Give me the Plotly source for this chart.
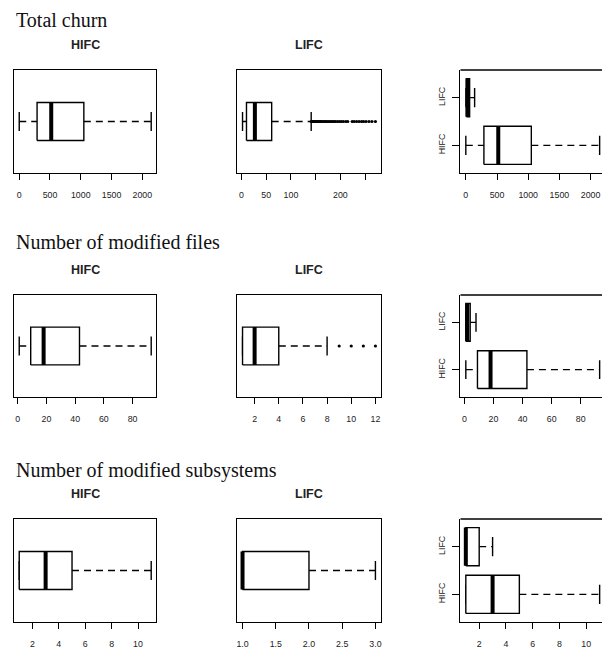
import plotly.graph_objects as go

# ---------------------------------------------------------------------------
# Summary statistics (lower whisker, Q1, median, Q3, upper whisker)
# ---------------------------------------------------------------------------
group_names = ["HIFC", "LIFC"]
metric_titles = ["Total churn", "Number of modified files", "Number of modified subsystems"]

churn_hifc = [0, 290, 520, 1050, 2145]
churn_lifc = [2, 10, 27, 61, 141]
churn_lifc_outliers = [141, 143, 144, 146, 148, 149, 151, 153, 155, 157, 159, 160,
                       162, 165, 167, 170, 172, 175, 178, 181, 184, 187, 190, 194,
                       198, 202, 206, 211, 215, 224, 228, 233, 238, 243, 247, 252,
                       258, 264, 271]

files_hifc = [1, 9, 18, 43, 93]
files_lifc = [1, 1, 2, 4, 8]
files_lifc_outliers = [9, 10, 11, 12]

subsys_hifc = [1, 1, 3, 5, 11]
subsys_lifc = [1, 1, 1, 2, 3]

# tick values / labels per panel
churn_hifc_ticks = [0, 500, 1000, 1500, 2000]
churn_lifc_ticks = [0, 50, 100, 150, 200, 250]
churn_lifc_ticktext = ["0", "50", "100", "", "200", ""]
files_hifc_ticks = [0, 20, 40, 60, 80]
files_lifc_ticks = [2, 4, 6, 8, 10, 12]
subsys_hifc_ticks = [2, 4, 6, 8, 10]
subsys_lifc_ticks = [1.0, 1.5, 2.0, 2.5, 3.0]
subsys_lifc_ticktext = ["1.0", "1.5", "2.0", "2.5", "3.0"]

# ---------------------------------------------------------------------------
# Page geometry (pixels)
# ---------------------------------------------------------------------------
W, H = 603, 653
COLS = [(13, 156), (237, 381), (461, 606)]   # last column runs past the page edge
ROWS = [(70, 173), (295, 397), (519, 622)]
TITLE_Y = [20, 242, 470]
SUBTITLE_Y = [45.5, 270, 494]

SANS = "Liberation Sans, Arial, sans-serif"
SERIF = "Liberation Serif, Times New Roman, serif"
LW = 1.4          # box / frame line width
MED_W = 4         # median line width
DASH = "7px,5px"  # whisker dash pattern


def padded(lo, hi, frac=0.04):
    d = hi - lo
    return [lo - frac * d, hi + frac * d]


fig = go.Figure()


def draw_box(xref, yref, stats, pos, half, outliers=None):
    lo, q1, med, q3, hi = stats
    common = dict(xaxis=xref, yaxis=yref, hoverinfo="skip", showlegend=False)
    # dashed whiskers
    if lo < q1:
        fig.add_trace(go.Scatter(x=[lo, q1], y=[pos, pos], mode="lines",
                                 line=dict(color="black", width=LW, dash=DASH), **common))
    if hi > q3:
        fig.add_trace(go.Scatter(x=[q3, hi], y=[pos, pos], mode="lines",
                                 line=dict(color="black", width=LW, dash=DASH), **common))
    # staples
    for v in (lo, hi):
        fig.add_trace(go.Scatter(x=[v, v], y=[pos - half / 2, pos + half / 2], mode="lines",
                                 line=dict(color="black", width=LW), **common))
    # box
    fig.add_trace(go.Scatter(x=[q1, q3, q3, q1, q1],
                             y=[pos - half, pos - half, pos + half, pos + half, pos - half],
                             mode="lines", fill="toself", fillcolor="white",
                             line=dict(color="black", width=LW), **common))
    # median
    fig.add_trace(go.Scatter(x=[med, med], y=[pos - half, pos + half], mode="lines",
                             line=dict(color="black", width=MED_W), **common))
    if outliers:
        fig.add_trace(go.Scatter(x=outliers, y=[pos] * len(outliers), mode="markers",
                                 marker=dict(color="black", size=3.2, line=dict(width=0)),
                                 **common))


panels = [
    # row 0
    dict(kind="single", boxes=[(churn_hifc, None)],
         ticks=churn_hifc_ticks, ticktext=None, title="HIFC"),
    dict(kind="single", boxes=[(churn_lifc, churn_lifc_outliers)],
         ticks=churn_lifc_ticks, ticktext=churn_lifc_ticktext, title="LIFC"),
    dict(kind="pair", boxes=[(churn_hifc, None), (churn_lifc, None)],
         ticks=churn_hifc_ticks, ticktext=None, title=None),
    # row 1
    dict(kind="single", boxes=[(files_hifc, None)],
         ticks=files_hifc_ticks, ticktext=None, title="HIFC"),
    dict(kind="single", boxes=[(files_lifc, files_lifc_outliers)],
         ticks=files_lifc_ticks, ticktext=None, title="LIFC"),
    dict(kind="pair", boxes=[(files_hifc, None), (files_lifc, None)],
         ticks=files_hifc_ticks, ticktext=None, title=None),
    # row 2
    dict(kind="single", boxes=[(subsys_hifc, None)],
         ticks=subsys_hifc_ticks, ticktext=None, title="HIFC"),
    dict(kind="single", boxes=[(subsys_lifc, None)],
         ticks=subsys_lifc_ticks, ticktext=subsys_lifc_ticktext, title="LIFC"),
    dict(kind="pair", boxes=[(subsys_hifc, None), (subsys_lifc, None)],
         ticks=subsys_hifc_ticks, ticktext=None, title=None),
]

layout = {}
shapes = []
annotations = []

for i, p in enumerate(panels):
    r, c = divmod(i, 3)
    n = i + 1
    xname = "x" if n == 1 else f"x{n}"
    yname = "y" if n == 1 else f"y{n}"
    xa_key = "xaxis" if n == 1 else f"xaxis{n}"
    ya_key = "yaxis" if n == 1 else f"yaxis{n}"

    x0, x1 = COLS[c]
    y0, y1 = ROWS[r]

    # data range across everything drawn in the panel
    vals = []
    for stats, outl in p["boxes"]:
        vals += list(stats) + (list(outl) if outl else [])
    xr = padded(min(vals), max(vals))
    clipped = x1 > W
    x1_vis = min(x1, W)
    if clipped:  # cut the axis at the page edge, keeping the scale
        xr[1] = xr[0] + (xr[1] - xr[0]) * (x1_vis - x0) / (x1 - x0)

    layout[xa_key] = dict(
        domain=[x0 / W, x1_vis / W], range=xr, anchor=yname,
        showgrid=False, zeroline=False, showline=True, mirror=not clipped,
        linecolor="black", linewidth=LW,
        ticks="outside", ticklen=6, tickwidth=LW, tickcolor="black",
        tickmode="array", tickvals=p["ticks"],
        ticktext=p["ticktext"] if p["ticktext"] else [str(t) for t in p["ticks"]],
        tickfont=dict(family=SANS, size=8.8, color="#222"),
        ticklabelstandoff=7, fixedrange=True,
    )

    if p["kind"] == "single":
        yr = padded(0.5, 1.5)
        layout[ya_key] = dict(
            domain=[1 - y1 / H, 1 - y0 / H], range=yr, anchor=xname,
            showgrid=False, zeroline=False, showline=True, mirror=True,
            linecolor="black", linewidth=LW, showticklabels=False, ticks="",
            fixedrange=True,
        )
        stats, outl = p["boxes"][0]
        draw_box(xname, yname, stats, 1, 0.2, outl)
    else:
        yr = padded(0.5, 2.5)
        layout[ya_key] = dict(
            domain=[1 - y1 / H, 1 - y0 / H], range=yr, anchor=xname,
            showgrid=False, zeroline=False, showline=True, mirror=False,
            linecolor="black", linewidth=LW,
            ticks="outside", ticklen=7, tickwidth=LW, tickcolor="black",
            tickmode="array", tickvals=[1, 2], ticktext=group_names,
            tickangle=-90, tickfont=dict(family=SANS, size=8.8, color="#222"),
            ticklabelstandoff=4, fixedrange=True,
        )
        for k, (stats, outl) in enumerate(p["boxes"]):
            draw_box(xname, yname, stats, k + 1, 0.4, outl)
        # top frame edge (the right edge lies beyond the page)
        shapes.append(dict(type="line", xref=f"{xname} domain", yref=f"{yname} domain",
                           x0=0, x1=1, y0=1, y1=1,
                           line=dict(color="black", width=LW)))

    if p["title"]:
        annotations.append(dict(
            text=f"<b>{p['title']}</b>", xref="paper", yref="paper",
            x=(x0 + x1) / 2 / W, y=1 - SUBTITLE_Y[r] / H,
            xanchor="center", yanchor="middle", showarrow=False,
            font=dict(family=SANS, size=12.5, color="#222"),
        ))

for r, t in enumerate(metric_titles):
    annotations.append(dict(
        text=t, xref="paper", yref="paper", x=13 / W, y=1 - TITLE_Y[r] / H,
        xanchor="left", yanchor="middle", showarrow=False,
        font=dict(family=SERIF, size=20, color="#111"),
    ))

fig.update_layout(
    width=W, height=H, margin=dict(l=0, r=0, t=0, b=0),
    paper_bgcolor="white", plot_bgcolor="white",
    showlegend=False, shapes=shapes, annotations=annotations,
    **layout,
)

fig.write_html("out.html", config={"displayModeBar": False})
